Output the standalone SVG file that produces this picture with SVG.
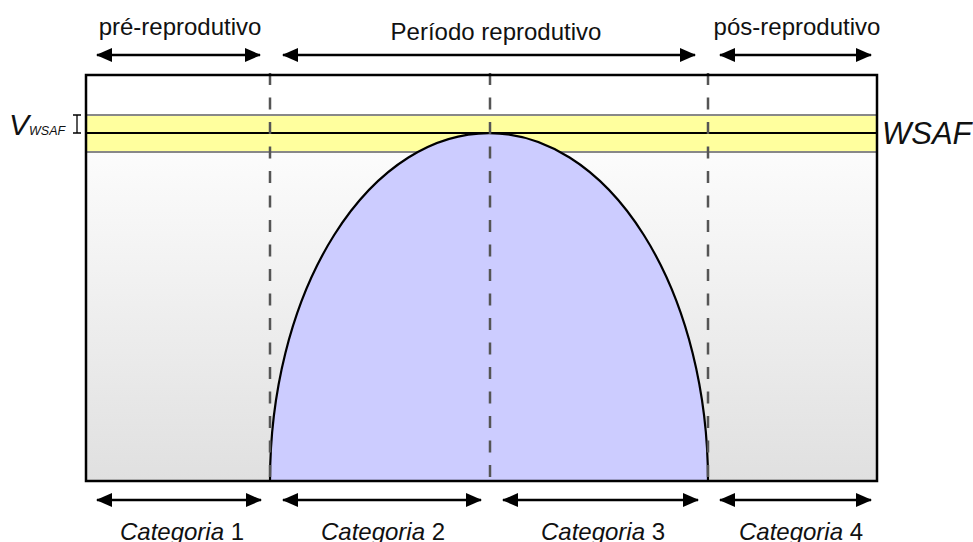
<svg xmlns="http://www.w3.org/2000/svg" width="973" height="542" viewBox="0 0 973 542">
<defs>
<linearGradient id="bg" gradientUnits="userSpaceOnUse" x1="0" y1="115" x2="0" y2="481">
<stop offset="0" stop-color="#ffffff"/>
<stop offset="1" stop-color="#e0e0e0"/>
</linearGradient>
<marker id="ah" viewBox="0 0 16 14" refX="15" refY="7" markerWidth="16" markerHeight="14" markerUnits="userSpaceOnUse" orient="auto-start-reverse">
<path d="M0,0 L16,7 L0,14 Z" fill="#000"/>
</marker>
<style>
.t{font-family:"Liberation Sans",Arial,sans-serif;font-size:24px;fill:#111;}
.i{font-style:italic;}
.arr{stroke:#000;stroke-width:2.5;fill:none;marker-start:url(#ah);marker-end:url(#ah);}
.dash{stroke:#555;stroke-width:2.5;stroke-dasharray:12 12.5;fill:none;}
</style>
</defs>
<g id="chart">
<rect x="86" y="75" width="791" height="406" fill="url(#bg)"/>
<rect x="86" y="115" width="791" height="37" fill="#ffff9e" stroke="#888" stroke-width="2"/>
<path d="M270,481 A219,348 0 0 1 708,481 Z" fill="#ccccff" stroke="#000" stroke-width="2.2"/>
<line x1="86" y1="133" x2="877" y2="133" stroke="#000" stroke-width="2"/>
<line class="dash" x1="270" y1="73" x2="270" y2="481"/>
<line class="dash" x1="490" y1="73" x2="490" y2="481"/>
<line class="dash" x1="708" y1="73" x2="708" y2="481"/>
<rect x="86" y="75" width="791" height="406" fill="none" stroke="#000" stroke-width="2.5"/>
</g>
<g id="vwsaf">
<text x="9" y="135" class="t i" style="font-size:30px">V<tspan style="font-size:12.5px" dy="0">WSAF</tspan></text>
<path d="M77,115 V133 M73,115 H81 M73,133 H81" stroke="#000" stroke-width="1.3" fill="none"/>
</g>
<g id="wsaf">
<text x="882" y="144" class="t i" style="font-size:31px">WSAF</text>
</g>
<g id="connectors">
<line class="arr" x1="97" y1="55" x2="260" y2="55"/>
<line class="arr" x1="283" y1="55" x2="695" y2="55"/>
<line class="arr" x1="720" y1="55" x2="871" y2="55"/>
<line class="arr" x1="97" y1="500" x2="261" y2="500"/>
<line class="arr" x1="283" y1="500" x2="481" y2="500"/>
<line class="arr" x1="503" y1="500" x2="698" y2="500"/>
<line class="arr" x1="720" y1="500" x2="871" y2="500"/>
</g>
<g id="labels">
<text x="180" y="35" class="t" text-anchor="middle">pré-reprodutivo</text>
<text x="496" y="40" class="t" text-anchor="middle">Período reprodutivo</text>
<text x="797" y="35" class="t" text-anchor="middle">pós-reprodutivo</text>
<text x="182" y="540" class="t" text-anchor="middle"><tspan class="i">Categoria</tspan> 1</text>
<text x="383" y="540" class="t" text-anchor="middle"><tspan class="i">Categoria</tspan> 2</text>
<text x="603" y="540" class="t" text-anchor="middle"><tspan class="i">Categoria</tspan> 3</text>
<text x="801" y="540" class="t" text-anchor="middle"><tspan class="i">Categoria</tspan> 4</text>
</g>
</svg>
